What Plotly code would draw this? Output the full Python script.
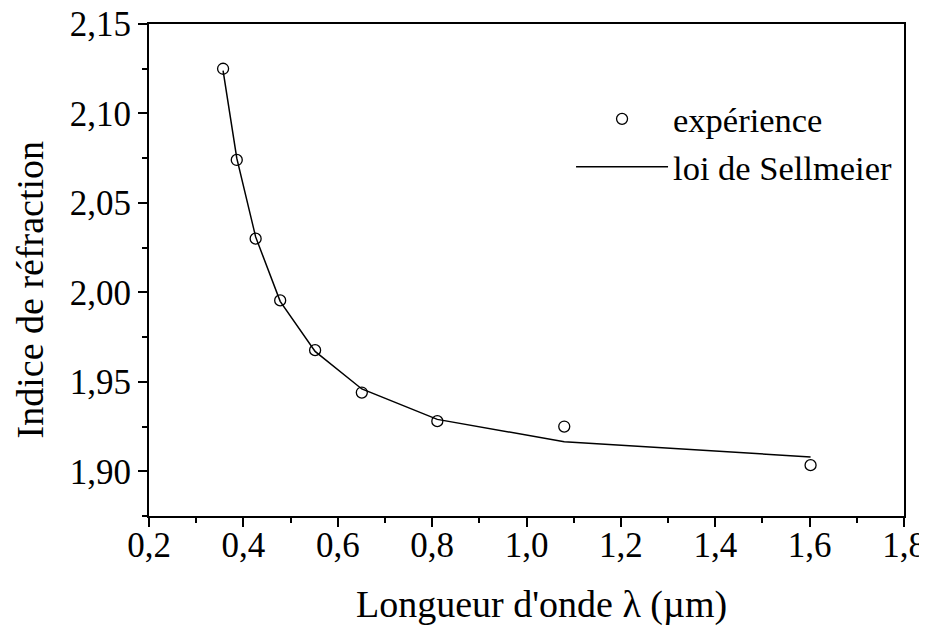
import plotly.graph_objects as go

# Data
wavelength_um = [0.357, 0.386, 0.426, 0.478, 0.552, 0.651, 0.811, 1.080, 1.602]
n_experience = [2.125, 2.074, 2.030, 1.9955, 1.9677, 1.944, 1.928, 1.925, 1.9034]
n_sellmeier = [2.124, 2.075, 2.031, 1.995, 1.967, 1.946, 1.929, 1.9165, 1.908]

x_title = "Longueur d'onde λ (µm)"
y_title = "Indice de réfraction"

FONT = "Liberation Serif, Times New Roman, serif"

fig = go.Figure()
fig.add_trace(go.Scatter(
    x=wavelength_um, y=n_experience, mode="markers", name="expérience",
    marker=dict(symbol="circle-open", size=11, color="black", line=dict(width=1.3, color="black")),
))
fig.add_trace(go.Scatter(
    x=wavelength_um, y=n_sellmeier, mode="lines", name="loi de Sellmeier",
    line=dict(color="black", width=1.5),
))

axis_common = dict(
    showline=True, linecolor="black", linewidth=2, mirror=True,
    ticks="outside", ticklen=9, tickwidth=1.5, tickcolor="black",
    showgrid=False, zeroline=False, automargin=False,
    ticklabeloverflow="allow",
    tickfont=dict(family=FONT, size=35, color="black"),
)

fig.update_xaxes(
    range=[0.2, 1.8], dtick=0.2, tick0=0.2, tickformat=".1f",
    minor=dict(ticks="outside", ticklen=5, tickwidth=1.5, tickcolor="black", dtick=0.1),
    ticklabelstandoff=-12,
    **axis_common,
)
fig.update_yaxes(
    range=[1.875, 2.15], dtick=0.05, tick0=1.9, tickformat=".2f",
    minor=dict(ticks="outside", ticklen=5, tickwidth=1.5, tickcolor="black", dtick=0.025),
    **axis_common,
)

fig.add_annotation(
    text=x_title, xref="paper", yref="paper", x=0.52, y=-0.18,
    xanchor="center", yanchor="middle", showarrow=False,
    font=dict(family=FONT, size=38, color="black"),
)
fig.add_annotation(
    text=y_title, xref="paper", yref="paper", x=-0.158, y=0.46,
    xanchor="center", yanchor="middle", showarrow=False, textangle=-90,
    font=dict(family=FONT, size=38, color="black"),
)

# The page body has an 8px margin, so the figure is made 8px smaller
# and its margins are shifted accordingly.
fig.update_layout(
    template="none",
    width=919, height=618,
    margin=dict(l=141, r=23, t=16, b=110, pad=0),
    paper_bgcolor="white", plot_bgcolor="white",
    separators=", ",
    showlegend=True,
    legend=dict(
        x=0.559, y=0.866, xanchor="left", yanchor="top",
        font=dict(family=FONT, size=34.5, color="black"),
        bgcolor="rgba(0,0,0,0)", itemwidth=92, borderwidth=0,
    ),
)

fig.write_html("out.html")
